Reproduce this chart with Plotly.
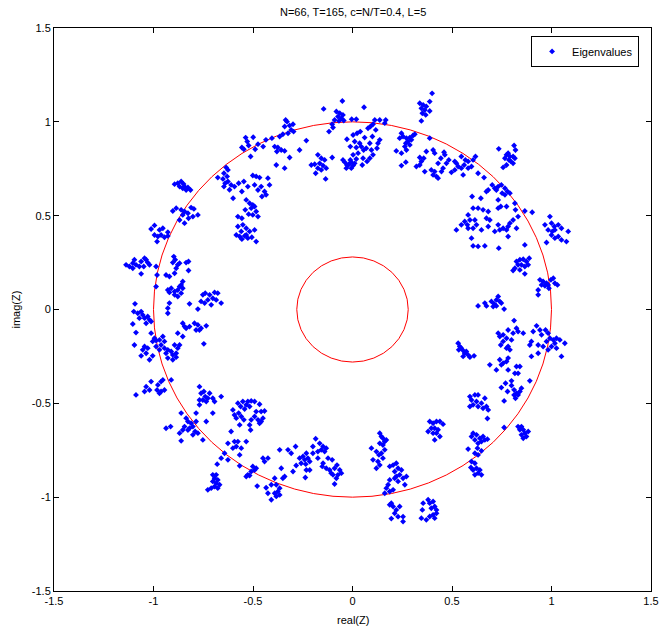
import plotly.graph_objects as go

# Eigenvalue estimates in the complex plane, grouped by quadrant (real, imag)
upper_left = [
    (-0.537, 0.916), (-0.529, 0.895), (-0.546, 0.854), (-0.556, 0.863), (-0.522, 0.874), (-0.499, 0.918),
    (-0.512, 0.815), (-0.489, 0.854), (-0.475, 0.881), (-0.449, 0.868), (-0.435, 0.904), (-0.405, 0.913),
    (-0.635, 0.757), (-0.626, 0.744), (-0.646, 0.726), (-0.677, 0.703), (-0.651, 0.696), (-0.640, 0.673),
    (-0.646, 0.655), (-0.626, 0.682), (-0.610, 0.664), (-0.618, 0.638), (-0.630, 0.709),
    (-0.593, 0.655), (-0.572, 0.673), (-0.546, 0.682), (-0.556, 0.629), (-0.600, 0.593), (-0.526, 0.655),
    (-0.501, 0.714), (-0.484, 0.709), (-0.467, 0.703), (-0.492, 0.664), (-0.475, 0.637), (-0.459, 0.655),
    (-0.442, 0.629), (-0.434, 0.611), (-0.455, 0.602), (-0.417, 0.664), (-0.425, 0.700),
    (-0.534, 0.584), (-0.517, 0.566), (-0.501, 0.557), (-0.509, 0.540), (-0.492, 0.549), (-0.484, 0.522),
    (-0.501, 0.504), (-0.475, 0.495), (-0.522, 0.508), (-0.539, 0.531), (-0.576, 0.495), (-0.556, 0.486),
    (-0.551, 0.451), (-0.576, 0.442), (-0.534, 0.433), (-0.517, 0.416), (-0.492, 0.424), (-0.559, 0.416),
    (-0.534, 0.397), (-0.584, 0.397), (-0.567, 0.389), (-0.542, 0.392), (-0.556, 0.375), (-0.526, 0.380),
    (-0.506, 0.385), (-0.484, 0.362),
    (-0.894, 0.668), (-0.878, 0.673), (-0.861, 0.682), (-0.849, 0.669), (-0.869, 0.655), (-0.844, 0.655),
    (-0.827, 0.650), (-0.836, 0.637), (-0.814, 0.637), (-0.853, 0.646),
    (-0.903, 0.525), (-0.886, 0.540), (-0.861, 0.531), (-0.844, 0.522), (-0.853, 0.504), (-0.827, 0.513),
    (-0.811, 0.543), (-0.797, 0.536), (-0.824, 0.486), (-0.802, 0.495), (-0.777, 0.504), (-0.844, 0.460),
    (-0.869, 0.477),
    (-0.995, 0.448), (-1.012, 0.429), (-0.970, 0.424), (-0.953, 0.433), (-0.928, 0.412), (-0.995, 0.397),
    (-0.978, 0.389), (-0.962, 0.397), (-0.945, 0.385), (-0.928, 0.392), (-0.982, 0.362),
    (-0.336, 1.010), (-0.329, 1.001), (-0.341, 0.975), (-0.316, 0.980), (-0.299, 0.987), (-0.308, 0.957),
    (-0.296, 0.948), (-0.324, 0.939), (-0.350, 0.934), (-0.366, 0.922), (-0.391, 0.868), (-0.375, 0.863),
    (-0.358, 0.850), (-0.341, 0.845), (-0.380, 0.842), (-0.316, 0.810), (-0.383, 0.770), (-0.341, 0.753),
    (-0.232, 0.900), (-0.266, 0.850), (-0.174, 0.824), (-0.207, 0.770), (-0.190, 0.774), (-0.157, 0.806),
    (-0.140, 0.797), (-0.165, 0.779), (-0.148, 0.767), (-0.132, 0.753), (-0.157, 0.744), (-0.174, 0.753),
    (-0.185, 0.726), (-0.135, 0.696), (-0.102, 0.810), (-0.145, 1.069), (-0.051, 1.111), (-0.118, 0.948),
    (-0.098, 0.970), (-0.102, 0.987), (-0.081, 1.055), (-0.064, 1.046), (-0.073, 1.028), (-0.056, 1.019),
    (-0.048, 1.037), (-0.068, 1.005), (-0.090, 1.010), (-0.044, 1.007), (-0.004, 1.014), (-0.028, 0.907),
    (-1.138, 0.238), (-1.121, 0.229), (-1.104, 0.247), (-1.096, 0.265), (-1.104, 0.220), (-1.088, 0.238),
    (-1.071, 0.229), (-1.062, 0.256), (-1.045, 0.273), (-1.037, 0.265), (-1.029, 0.250), (-1.020, 0.238),
    (-1.049, 0.229), (-1.062, 0.190),
    (-0.898, 0.282), (-0.891, 0.265), (-0.903, 0.250), (-0.878, 0.238), (-0.869, 0.247), (-0.836, 0.250),
    (-0.824, 0.256), (-0.886, 0.220), (-0.894, 0.193), (-0.824, 0.208), (-0.937, 0.184), (-0.920, 0.176),
    (-0.987, 0.229), (-0.982, 0.184), (-0.928, 0.104), (-0.911, 0.113), (-0.894, 0.096), (-0.878, 0.104),
    (-0.869, 0.122), (-0.861, 0.131), (-0.853, 0.149), (-0.861, 0.087), (-0.878, 0.069), (-0.894, 0.078),
    (-0.920, 0.091), (-0.853, 0.113), (-0.987, 0.122),
    (-0.752, 0.078), (-0.740, 0.087), (-0.718, 0.078), (-0.693, 0.091), (-0.677, 0.087), (-0.702, 0.060),
    (-0.685, 0.051), (-0.727, 0.051), (-0.743, 0.034), (-0.761, 0.043), (-0.710, 0.025), (-0.660, 0.034),
    (-0.819, 0.030), (-0.777, 0.002), (-1.093, 0.030), (-0.928, 0.007), (-0.920, 0.034),
]

upper_right = [
    (0.003, 0.930), (0.023, 0.939), (0.039, 0.948), (0.061, 0.916), (0.011, 0.895), (0.036, 0.886),
    (-0.011, 0.868), (0.019, 0.863), (0.044, 0.868), (0.056, 0.850), (0.069, 0.859), (0.087, 0.886),
    (0.100, 0.922), (0.078, 0.966), (0.090, 0.975), (0.103, 0.987), (0.117, 0.957), (0.137, 1.010),
    (0.167, 1.010), (0.162, 0.993), (0.137, 0.904), (0.128, 0.886), (0.123, 0.859), (0.095, 0.850),
    (0.103, 0.824), (0.087, 0.806), (0.073, 0.789), (0.053, 0.806), (0.028, 0.833), (0.003, 0.824),
    (-0.011, 0.797), (-0.048, 0.797), (-0.039, 0.785), (-0.028, 0.770), (-0.014, 0.779), (0.003, 0.767),
    (-0.006, 0.753), (0.011, 0.779), (0.019, 0.802), (0.049, 0.770), (-0.031, 0.753), (-0.023, 0.767),
    (-0.006, 0.785), (0.112, 1.010), (0.019, 1.014), (0.058, 1.078),
    (0.338, 1.099), (0.355, 1.090), (0.346, 1.072), (0.363, 1.063), (0.371, 1.082), (0.351, 1.046),
    (0.368, 1.037), (0.346, 1.005), (0.400, 1.152), (0.388, 1.108), (0.388, 1.058),
    (0.246, 0.939), (0.254, 0.922), (0.237, 0.913), (0.271, 0.913), (0.288, 0.916), (0.304, 0.927),
    (0.313, 0.934), (0.279, 0.895), (0.296, 0.904), (0.268, 0.886), (0.288, 0.877), (0.263, 0.868),
    (0.220, 0.845), (0.246, 0.833), (0.271, 0.850), (0.246, 0.767), (0.268, 0.785), (0.321, 0.762),
    (0.338, 0.770), (0.346, 0.789), (0.358, 0.806), (0.338, 0.810), (0.363, 0.735), (0.371, 0.842),
    (0.388, 0.913), (0.405, 0.850), (0.413, 0.833), (0.460, 0.838), (0.464, 0.824), (0.444, 0.806),
    (0.430, 0.779), (0.455, 0.753), (0.447, 0.735), (0.413, 0.735), (0.422, 0.709), (0.430, 0.700),
    (0.396, 0.744), (0.472, 0.779), (0.484, 0.797), (0.497, 0.731), (0.514, 0.789), (0.547, 0.815),
    (0.567, 0.797), (0.581, 0.789), (0.606, 0.797), (0.618, 0.815), (0.598, 0.762), (0.581, 0.753),
    (0.561, 0.770), (0.547, 0.753), (0.531, 0.762), (0.514, 0.744), (0.556, 0.717), (0.522, 0.779),
    (0.405, 0.717), (0.631, 0.726), (0.661, 0.703),
    (0.735, 0.856), (0.812, 0.874), (0.819, 0.850), (0.782, 0.833), (0.774, 0.824), (0.791, 0.815),
    (0.766, 0.806), (0.786, 0.797), (0.807, 0.815), (0.816, 0.806), (0.796, 0.789), (0.774, 0.770),
    (0.757, 0.757), (0.807, 0.779),
    (0.702, 0.664), (0.715, 0.646), (0.732, 0.655), (0.748, 0.664), (0.766, 0.646), (0.779, 0.629),
    (0.752, 0.620), (0.723, 0.637), (0.682, 0.637), (0.673, 0.629), (0.732, 0.584), (0.766, 0.611),
    (0.791, 0.620), (0.816, 0.566), (0.866, 0.525), (0.903, 0.518), (0.601, 0.602), (0.645, 0.593),
    (0.606, 0.540), (0.631, 0.540), (0.656, 0.531), (0.682, 0.522), (0.732, 0.540), (0.745, 0.549),
    (0.774, 0.549), (0.819, 0.531), (0.832, 0.495), (0.807, 0.477), (0.791, 0.460), (0.782, 0.442),
    (0.757, 0.433), (0.732, 0.451), (0.690, 0.477), (0.673, 0.486), (0.581, 0.504), (0.564, 0.469),
    (0.577, 0.451), (0.590, 0.477), (0.615, 0.477), (0.623, 0.451), (0.606, 0.433), (0.648, 0.424),
    (0.682, 0.442), (0.715, 0.416), (0.740, 0.424), (0.774, 0.424), (0.824, 0.433), (0.581, 0.433),
    (0.522, 0.424), (0.547, 0.451),
    (0.992, 0.495), (0.967, 0.451), (1.000, 0.460), (1.014, 0.442), (1.034, 0.451), (1.017, 0.424),
    (1.050, 0.433), (1.004, 0.416), (1.084, 0.416), (0.983, 0.424), (1.000, 0.397), (1.017, 0.380),
    (1.034, 0.389), (1.050, 0.371), (0.975, 0.357), (1.075, 0.362),
    (0.598, 0.380), (0.606, 0.339), (0.631, 0.336), (0.665, 0.339), (0.735, 0.327), (0.782, 0.389),
    (0.866, 0.344),
    (0.824, 0.256), (0.841, 0.265), (0.858, 0.268), (0.874, 0.256), (0.883, 0.238), (0.866, 0.229),
    (0.849, 0.238), (0.832, 0.238), (0.816, 0.220), (0.841, 0.211), (0.807, 0.208), (0.866, 0.190),
    (0.888, 0.273),
    (0.942, 0.158), (0.958, 0.149), (0.975, 0.140), (0.950, 0.131), (0.967, 0.126), (0.983, 0.131),
    (0.997, 0.158), (1.009, 0.167), (1.017, 0.140), (1.030, 0.131), (0.987, 0.113), (0.933, 0.104),
    (0.933, 0.078),
    (0.631, 0.019), (0.665, 0.034), (0.673, 0.019), (0.698, 0.043), (0.712, 0.030), (0.723, 0.051),
    (0.732, 0.069), (0.740, 0.043), (0.748, 0.034), (0.723, 0.019), (0.707, 0.016), (0.762, 0.002),
]

lower_right = [
    (0.812, -0.059), (0.732, -0.126), (0.740, -0.144), (0.757, -0.135), (0.782, -0.109), (0.807, -0.126),
    (0.824, -0.100), (0.832, -0.117), (0.774, -0.153), (0.757, -0.170), (0.745, -0.189), (0.782, -0.197),
    (0.799, -0.162), (0.858, -0.126), (0.899, -0.170), (0.908, -0.117), (0.925, -0.087), (0.942, -0.109),
    (0.950, -0.135), (0.970, -0.109), (0.983, -0.126), (0.992, -0.153), (1.009, -0.162), (1.025, -0.153),
    (1.042, -0.162), (1.067, -0.180), (1.017, -0.180), (1.000, -0.197), (1.025, -0.206), (0.975, -0.170),
    (0.958, -0.197), (0.933, -0.189), (0.891, -0.189), (0.791, -0.215), (0.774, -0.206), (0.983, -0.215),
    (0.899, -0.250), (1.050, -0.250), (0.933, -0.233), (0.740, -0.268), (0.757, -0.286), (0.782, -0.259),
    (0.774, -0.277), (0.748, -0.295), (0.782, -0.322), (0.824, -0.304), (0.841, -0.304), (0.816, -0.340),
    (0.832, -0.340), (0.690, -0.295), (0.723, -0.322),
    (0.531, -0.180), (0.539, -0.197), (0.547, -0.206), (0.534, -0.215), (0.556, -0.219), (0.564, -0.233),
    (0.572, -0.224), (0.581, -0.242), (0.590, -0.254), (0.556, -0.250), (0.611, -0.247),
    (0.748, -0.416), (0.769, -0.393), (0.779, -0.437), (0.799, -0.380), (0.799, -0.405), (0.812, -0.428),
    (0.824, -0.446), (0.819, -0.473), (0.832, -0.455), (0.849, -0.419), (0.841, -0.437), (0.762, -0.487),
    (0.891, -0.380), (0.812, -0.455),
    (0.590, -0.464), (0.615, -0.455), (0.631, -0.455), (0.598, -0.482), (0.623, -0.490), (0.606, -0.508),
    (0.590, -0.517), (0.631, -0.517), (0.648, -0.499), (0.665, -0.473), (0.673, -0.517), (0.682, -0.535),
    (0.656, -0.526), (0.678, -0.581),
    (0.388, -0.597), (0.405, -0.606), (0.422, -0.597), (0.439, -0.597), (0.455, -0.611), (0.396, -0.633),
    (0.413, -0.633), (0.430, -0.641), (0.405, -0.659), (0.422, -0.659), (0.439, -0.677), (0.413, -0.695),
    (0.380, -0.650),
    (0.606, -0.659), (0.598, -0.677), (0.623, -0.668), (0.615, -0.695), (0.640, -0.686), (0.656, -0.677),
    (0.648, -0.704), (0.665, -0.695), (0.678, -0.691), (0.631, -0.713), (0.581, -0.744), (0.628, -0.739),
    (0.648, -0.753), (0.631, -0.775), (0.615, -0.766),
    (0.598, -0.810), (0.615, -0.819), (0.595, -0.842), (0.606, -0.855), (0.623, -0.846), (0.640, -0.855),
    (0.631, -0.872), (0.615, -0.881), (0.648, -0.881),
    (0.832, -0.624), (0.849, -0.624), (0.841, -0.641), (0.858, -0.641), (0.866, -0.659), (0.849, -0.668),
    (0.874, -0.677), (0.858, -0.686), (0.883, -0.650), (0.762, -0.629),
    (0.137, -0.659), (0.145, -0.677), (0.153, -0.686), (0.162, -0.704), (0.170, -0.695), (0.137, -0.713),
    (0.153, -0.722), (0.095, -0.739), (0.120, -0.757), (0.133, -0.775), (0.145, -0.766), (0.103, -0.801),
    (0.128, -0.810), (0.153, -0.792), (0.137, -0.829), (0.120, -0.846), (0.162, -0.748), (0.187, -0.836),
    (0.204, -0.829), (0.220, -0.819), (0.229, -0.846), (0.212, -0.863), (0.237, -0.881), (0.220, -0.890),
    (0.246, -0.855), (0.212, -0.899), (0.254, -0.899), (0.271, -0.890), (0.263, -0.934), (0.229, -0.916),
    (0.187, -0.908), (0.179, -0.934), (0.170, -0.952), (0.187, -0.970), (0.204, -0.961), (0.162, -0.979),
    (0.195, -1.032), (0.204, -1.050), (0.220, -1.068), (0.237, -1.050), (0.212, -1.086), (0.229, -1.104),
    (0.254, -1.104), (0.195, -1.114), (0.254, -1.130), (0.187, -1.041),
    (0.380, -1.014), (0.388, -1.032), (0.405, -1.023), (0.396, -1.059), (0.413, -1.050), (0.422, -1.068),
    (0.405, -1.094), (0.388, -1.103), (0.413, -1.112), (0.422, -1.086), (0.355, -1.032), (0.351, -1.068),
    (0.346, -1.112), (0.371, -1.121),
]

lower_left = [
    (-1.099, -0.011), (-1.079, -0.020), (-1.062, -0.011), (-1.054, -0.029), (-1.071, -0.046), (-1.045, -0.046),
    (-1.029, -0.037), (-1.020, -0.055), (-1.012, -0.064), (-1.037, -0.073), (-1.104, -0.077), (-1.088, -0.123),
    (-0.928, -0.020),
    (-0.853, -0.073), (-0.844, -0.091), (-0.836, -0.100), (-0.819, -0.091), (-0.794, -0.073), (-0.777, -0.082),
    (-0.761, -0.100), (-0.769, -0.109), (-0.735, -0.087), (-0.786, -0.109), (-0.878, -0.126), (-0.853, -0.144),
    (-0.747, -0.183),
    (-1.012, -0.126), (-0.995, -0.153), (-1.004, -0.170), (-0.987, -0.165), (-0.970, -0.162), (-0.953, -0.144),
    (-0.945, -0.170), (-0.962, -0.189), (-0.987, -0.197), (-0.970, -0.215), (-0.945, -0.206), (-0.928, -0.215),
    (-0.911, -0.224), (-0.937, -0.233), (-0.903, -0.242), (-0.886, -0.233), (-0.878, -0.206), (-0.869, -0.189),
    (-0.894, -0.189), (-0.903, -0.268), (-0.928, -0.259), (-1.045, -0.197), (-1.054, -0.215), (-1.029, -0.206),
    (-1.037, -0.233), (-1.062, -0.247), (-1.020, -0.268), (-1.004, -0.247), (-1.096, -0.189), (-0.886, -0.254),
    (-1.088, -0.455), (-1.045, -0.437), (-1.037, -0.411), (-1.020, -0.429), (-1.012, -0.384), (-0.978, -0.402),
    (-0.982, -0.429), (-0.970, -0.446), (-0.962, -0.437), (-0.962, -0.384), (-0.945, -0.429), (-0.911, -0.375),
    (-0.953, -0.375),
    (-0.861, -0.552), (-0.836, -0.579), (-0.827, -0.597), (-0.811, -0.606), (-0.844, -0.624), (-0.853, -0.642),
    (-0.827, -0.642), (-0.819, -0.633), (-0.802, -0.624), (-0.786, -0.552), (-0.786, -0.597), (-0.791, -0.650),
    (-0.802, -0.668), (-0.777, -0.659), (-0.869, -0.659), (-0.861, -0.700), (-0.937, -0.633), (-0.914, -0.624),
    (-0.735, -0.597), (-0.752, -0.695),
    (-0.769, -0.411), (-0.761, -0.446), (-0.747, -0.437), (-0.740, -0.464), (-0.727, -0.473), (-0.735, -0.490),
    (-0.752, -0.482), (-0.769, -0.482), (-0.769, -0.508), (-0.718, -0.446), (-0.702, -0.473), (-0.693, -0.490),
    (-0.660, -0.464), (-0.702, -0.552),
    (-0.601, -0.535), (-0.576, -0.499), (-0.562, -0.517), (-0.551, -0.490), (-0.526, -0.490), (-0.509, -0.487),
    (-0.492, -0.490), (-0.467, -0.505), (-0.534, -0.508), (-0.517, -0.517), (-0.542, -0.530), (-0.593, -0.562),
    (-0.584, -0.579), (-0.572, -0.552), (-0.559, -0.570), (-0.546, -0.588), (-0.567, -0.615), (-0.517, -0.615),
    (-0.512, -0.642), (-0.509, -0.588), (-0.492, -0.570), (-0.484, -0.544), (-0.459, -0.544), (-0.442, -0.541),
    (-0.475, -0.588), (-0.459, -0.597), (-0.450, -0.579), (-0.467, -0.606), (-0.610, -0.650), (-0.534, -0.704),
    (-0.576, -0.704), (-0.593, -0.704), (-0.626, -0.713), (-0.601, -0.739), (-0.584, -0.730), (-0.559, -0.739),
    (-0.567, -0.775), (-0.643, -0.766), (-0.660, -0.792), (-0.680, -0.824), (-0.626, -0.801),
    (-0.450, -0.792), (-0.425, -0.792), (-0.442, -0.810), (-0.501, -0.836), (-0.492, -0.855), (-0.509, -0.863),
    (-0.484, -0.846), (-0.526, -0.881), (-0.534, -0.890), (-0.517, -0.885), (-0.567, -0.833), (-0.479, -0.941),
    (-0.434, -0.950), (-0.408, -0.934), (-0.425, -0.979), (-0.408, -1.014),
    (-0.702, -0.881), (-0.685, -0.881), (-0.693, -0.899), (-0.677, -0.908), (-0.702, -0.916), (-0.685, -0.925),
    (-0.668, -0.934), (-0.693, -0.943), (-0.710, -0.952), (-0.727, -0.961), (-0.677, -0.952),
    (-0.391, -0.899), (-0.383, -0.934), (-0.366, -0.952), (-0.375, -0.970), (-0.391, -0.979), (-0.383, -0.996),
    (-0.366, -0.988), (-0.350, -0.899), (-0.341, -0.890), (-0.358, -0.846), (-0.366, -0.748), (-0.324, -0.748),
    (-0.308, -0.766), (-0.286, -0.730),
    (-0.266, -0.792), (-0.249, -0.783), (-0.232, -0.766), (-0.240, -0.801), (-0.224, -0.792), (-0.215, -0.810),
    (-0.235, -0.824), (-0.258, -0.819), (-0.283, -0.831), (-0.299, -0.863), (-0.232, -0.855), (-0.215, -0.855),
    (-0.237, -0.895), (-0.199, -0.730), (-0.185, -0.689), (-0.165, -0.713), (-0.148, -0.730), (-0.157, -0.748),
    (-0.140, -0.757), (-0.132, -0.739), (-0.174, -0.757), (-0.174, -0.792), (-0.148, -0.819), (-0.152, -0.836),
    (-0.123, -0.792), (-0.115, -0.855), (-0.107, -0.872), (-0.090, -0.846), (-0.078, -0.829), (-0.064, -0.855),
    (-0.073, -0.881), (-0.098, -0.881), (-0.081, -0.899), (-0.090, -0.930), (-0.056, -0.872), (-0.102, -0.801),
    (-0.132, -0.846), (-0.199, -0.766),
]

# Reference circles: unit circle and the inner ring
unit_radius = 1.0
inner_radius = 0.28

axis_ticks = [-1.5, -1.0, -0.5, 0.0, 0.5, 1.0, 1.5]
axis_tick_text = ["-1.5", "-1", "-0.5", "0", "0.5", "1", "1.5"]

title_text = "N=66, T=165, c=N/T=0.4, L=5"

points = upper_left + upper_right + lower_right + lower_left
re_vals = [p[0] for p in points]
im_vals = [p[1] for p in points]

FONT = "Liberation Sans, Arial, sans-serif"

fig = go.Figure()
fig.add_trace(go.Scatter(
    x=re_vals, y=im_vals, mode="markers", name="Eigenvalues",
    marker=dict(symbol="diamond", size=4.5, color="#0000ff", line=dict(width=0)),
))

for r in (unit_radius, inner_radius):
    fig.add_shape(type="circle", xref="x", yref="y", x0=-r, y0=-r, x1=r, y1=r,
                  line=dict(color="#ff0000", width=1), layer="below")

axis_common = dict(
    tickmode="array", tickvals=axis_ticks, ticktext=axis_tick_text,
    range=[-1.5, 1.5], showgrid=False, zeroline=False, automargin=False,
    showline=True, linecolor="#000000", linewidth=1, mirror="ticks",
    ticks="inside", ticklen=5, tickcolor="#000000",
    tickfont=dict(family=FONT, size=11, color="#000000"),
)

fig.update_layout(
    width=659, height=628,
    margin=dict(l=54, r=8, t=28, b=37, autoexpand=False),
    paper_bgcolor="white", plot_bgcolor="white",
    xaxis=axis_common, yaxis=axis_common,
    showlegend=True,
    legend=dict(
        x=0.98, y=0.986, xanchor="right", yanchor="top",
        bgcolor="white", bordercolor="#000000", borderwidth=1,
        font=dict(family=FONT, size=11, color="#000000"),
        itemwidth=30, tracegroupgap=0,
    ),
    annotations=[
        dict(text=title_text, xref="paper", yref="paper", x=0.5, y=1.028,
             xanchor="center", yanchor="middle", showarrow=False,
             font=dict(family=FONT, size=11, color="#000000")),
        dict(text="real(Z)", xref="paper", yref="paper", x=0.5, y=-0.0515,
             xanchor="center", yanchor="middle", showarrow=False,
             font=dict(family=FONT, size=11, color="#000000")),
        dict(text="imag(Z)", xref="paper", yref="paper", x=-0.0653, y=0.5,
             xanchor="center", yanchor="middle", showarrow=False, textangle=-90,
             font=dict(family=FONT, size=11, color="#000000")),
    ],
)

fig.write_html("out.html")
